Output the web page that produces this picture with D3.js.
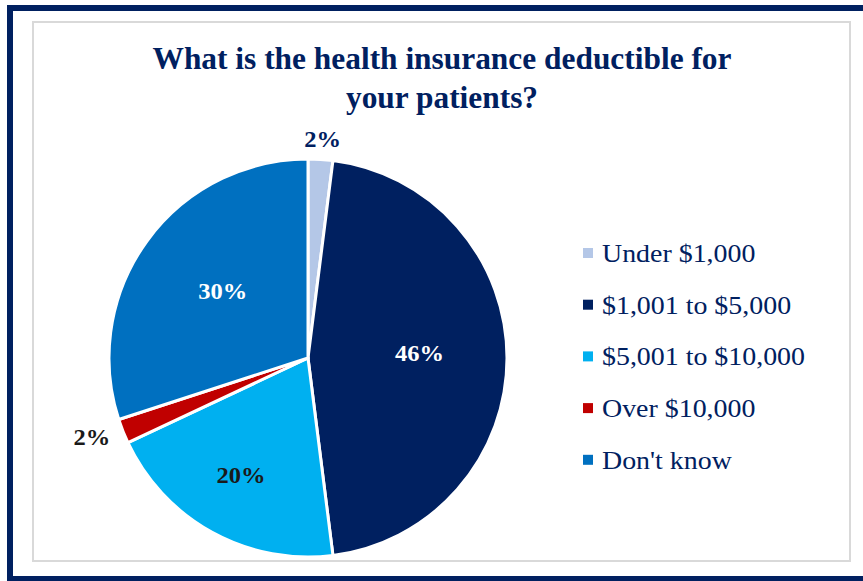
<!DOCTYPE HTML>
<html>
<head>
	<meta charset="utf-8">
	<style>
		body { margin: 0; background: #fff; }
		svg text { font-family: "Liberation Serif", "DejaVu Serif", serif; }
		.title { font-weight: bold; fill: #002060; text-anchor: middle; }
		.legend text { fill: #002060; }
		.pct { font-weight: bold; text-anchor: middle; }
	</style>
	<script src="https://cdn.jsdelivr.net/npm/d3@7"></script>
</head>
<body>
<script>
	var categories = ["Under $1,000", "$1,001 to $5,000", "$5,001 to $10,000", "Over $10,000", "Don't know"];
	var values = [2, 46, 20, 2, 30];
	var colors = ["#B4C7E7", "#002060", "#00B0F0", "#C00000", "#0070C0"];
	var labelColors = ["#002060", "#ffffff", "#1a1a1a", "#1a1a1a", "#ffffff"];
	var labelRadius = [1, 0.56, 0.70, 1, 0.53];
	var titleLines = ["What is the health insurance deductible for", "your patients?"];

	var width = 863, height = 581;
	var cx = 308, cy = 358, radius = 199;

	var svg = d3.select("body").append("svg")
		.attr("width", width)
		.attr("height", height);

	// stretch a group of texts by one common factor so that the reference
	// text (index ref) ends up target px wide
	function stretch(sel, ref, target) {
		var nodes = sel.nodes();
		var k = target / nodes[ref].getComputedTextLength();
		sel.each(function() {
			d3.select(this)
				.attr("textLength", (this.getComputedTextLength() * k).toFixed(1))
				.attr("lengthAdjust", "spacingAndGlyphs");
		});
	}

	// frames
	svg.append("rect")
		.attr("x", 10).attr("y", 8)
		.attr("width", 870).attr("height", 571)
		.attr("fill", "none")
		.attr("stroke", "#002060")
		.attr("stroke-width", 6);
	svg.append("rect")
		.attr("x", 33).attr("y", 22)
		.attr("width", 817).attr("height", 539)
		.attr("fill", "none")
		.attr("stroke", "#d9d9d9")
		.attr("stroke-width", 2);

	var title = svg.selectAll(".title")
		.data(titleLines)
		.enter().append("text")
		.attr("class", "title")
		.attr("x", 442)
		.attr("y", function(d, i) { return 69 + i * 39; })
		.attr("font-size", 32)
		.text(function(d) { return d; });
	stretch(title, 0, 579);

	var data = categories.map(function(c, i) { return {key: c, value: values[i], i: i}; });

	var pie = d3.pie().sort(null).value(function(d) { return d.value; });
	var arc = d3.arc().innerRadius(0).outerRadius(radius);
	var arcs = pie(data);

	var g = svg.append("g").attr("transform", "translate(" + cx + "," + cy + ")");

	g.selectAll("path")
		.data(arcs)
		.enter().append("path")
		.attr("d", arc)
		.attr("fill", function(d) { return colors[d.data.i]; })
		.attr("stroke", "#fff")
		.attr("stroke-width", 3)
		.attr("stroke-linejoin", "round");

	var pct = g.selectAll(".pct")
		.data(arcs)
		.enter().append("text")
		.attr("class", "pct")
		.attr("font-size", 23.5)
		.attr("dy", "0.3em")
		.attr("fill", function(d) { return labelColors[d.data.i]; })
		.text(function(d) { return d.data.value + "%"; });
	stretch(pct, 1, 49);

	pct.attr("transform", function(d) {
		var a = (d.startAngle + d.endAngle) / 2;
		var f = labelRadius[d.data.i];
		var x, y;
		if (f >= 1) {
			// outside labels: keep the text box just clear of the rim
			var half = this.getComputedTextLength() / 2;
			x = Math.sin(a) * (radius + 15) + Math.sign(Math.sin(a)) * half * Math.abs(Math.sin(a));
			y = -Math.cos(a) * (radius + 15) - Math.cos(a) * 4;
		} else {
			x = Math.sin(a) * radius * f;
			y = -Math.cos(a) * radius * f - 4;
		}
		return "translate(" + x + "," + y + ")";
	});

	var legend = svg.append("g").attr("class", "legend")
		.selectAll("g")
		.data(data)
		.enter().append("g")
		.attr("transform", function(d, i) { return "translate(583," + (253 + i * 51.7) + ")"; });

	legend.append("rect")
		.attr("x", 0).attr("y", -5)
		.attr("width", 10).attr("height", 10)
		.attr("fill", function(d) { return colors[d.i]; });

	var legText = legend.append("text")
		.attr("x", 19)
		.attr("dy", "0.35em")
		.attr("font-size", 25.5)
		.text(function(d) { return d.key; });
	stretch(legText, 2, 203);
</script>
</body>
</html>
